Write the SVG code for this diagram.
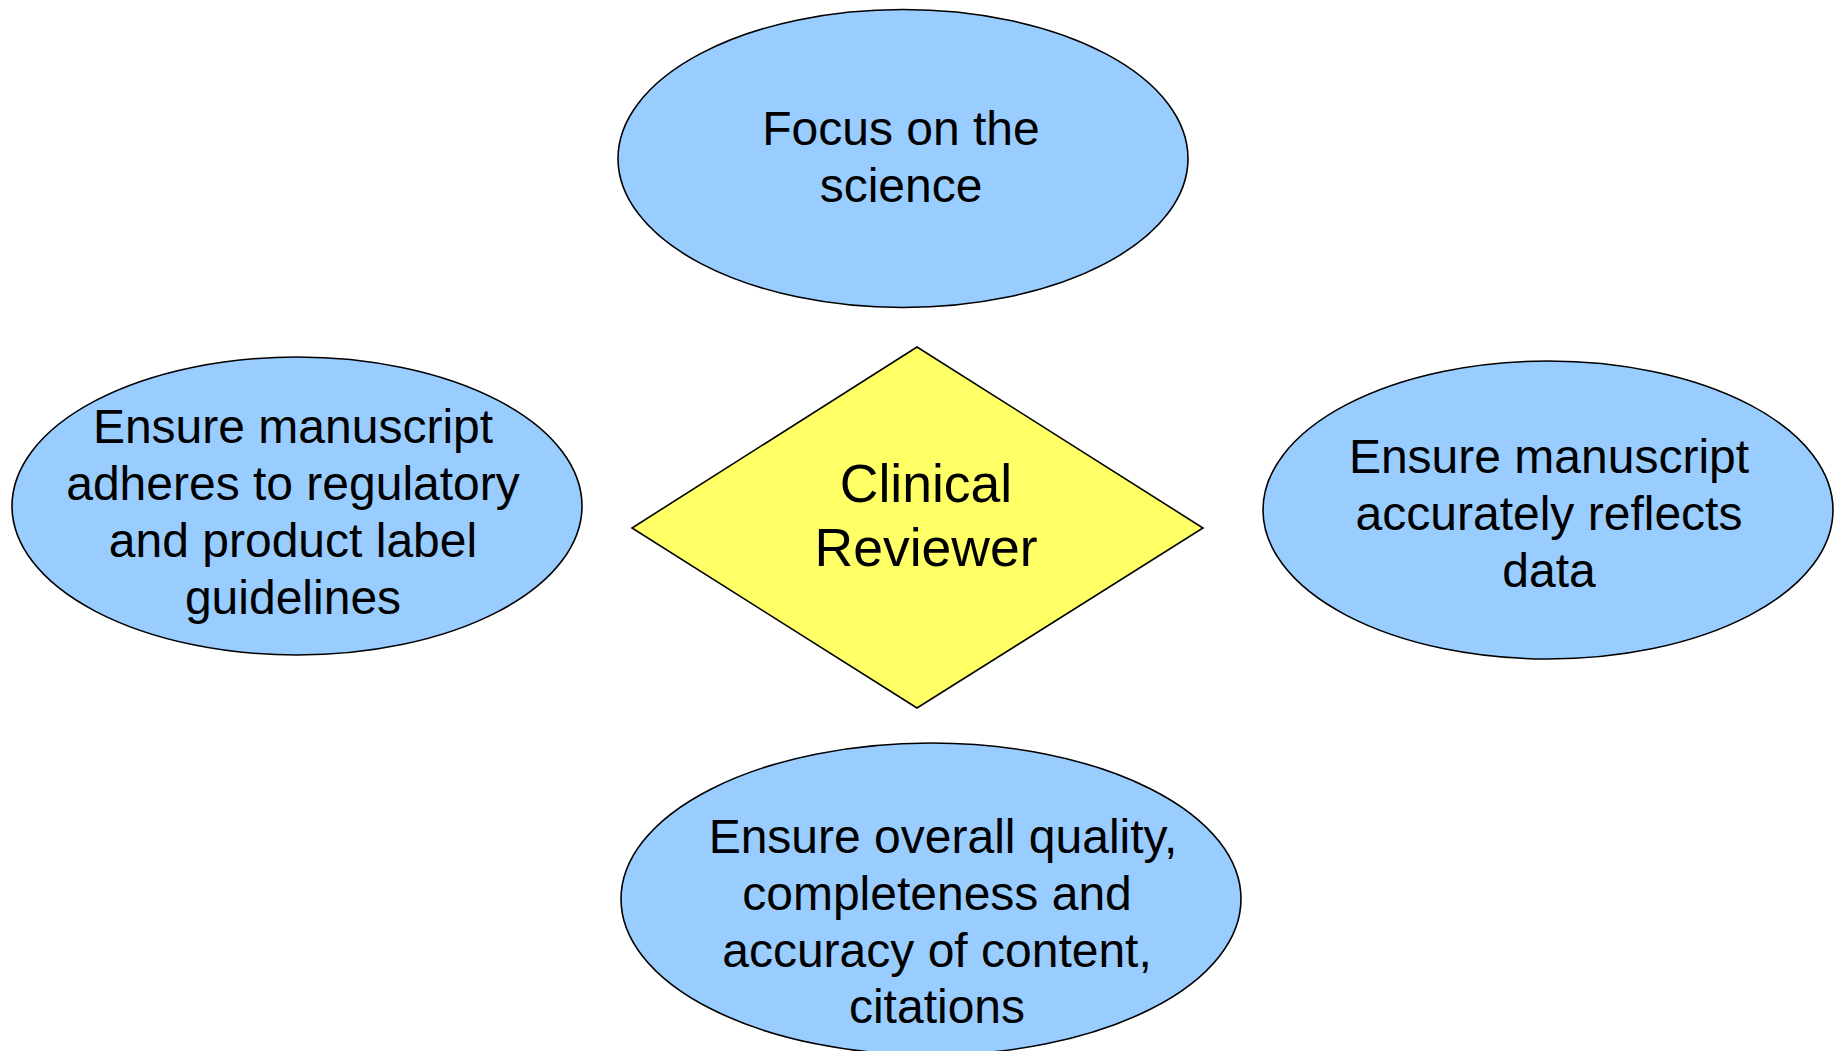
<svg xmlns="http://www.w3.org/2000/svg" width="1837" height="1051" viewBox="0 0 1837 1051">
<style>
.oval{fill:#99CCFF;stroke:#000;stroke-width:1.6}
.dia{fill:#FFFF66;stroke:#000;stroke-width:1.6}
text{font-family:"Liberation Sans",Arial,sans-serif;font-size:48px;fill:#000;text-anchor:middle}
.big{font-size:53.5px}
</style>
<rect width="1837" height="1051" fill="#fff"/>
<g id="connectors"></g>
<g id="science">
<ellipse class="oval" cx="903" cy="158.5" rx="285" ry="149"/>
<text x="901" y="145">Focus on the</text>
<text x="901" y="202">science</text>
</g>
<g id="regulatory">
<ellipse class="oval" cx="297" cy="506" rx="285" ry="149"/>
<text x="293" y="443">Ensure manuscript</text>
<text x="293" y="500">adheres to regulatory</text>
<text x="293" y="557">and product label</text>
<text x="293" y="614">guidelines</text>
</g>
<g id="data">
<ellipse class="oval" cx="1548" cy="510" rx="285" ry="149"/>
<text x="1549" y="473">Ensure manuscript</text>
<text x="1549" y="530">accurately reflects</text>
<text x="1549" y="587">data</text>
</g>
<g id="quality">
<ellipse class="oval" cx="931" cy="899" rx="310" ry="156"/>
<text x="943" y="853">Ensure overall quality,</text>
<text x="937" y="910">completeness and</text>
<text x="937" y="967">accuracy of content,</text>
<text x="937" y="1023">citations</text>
</g>
<g id="reviewer">
<polygon class="dia" points="917,347 1203,528 917,708 632,528"/>
<text class="big" x="926" y="502">Clinical</text>
<text class="big" x="926" y="566">Reviewer</text>
</g>
</svg>
